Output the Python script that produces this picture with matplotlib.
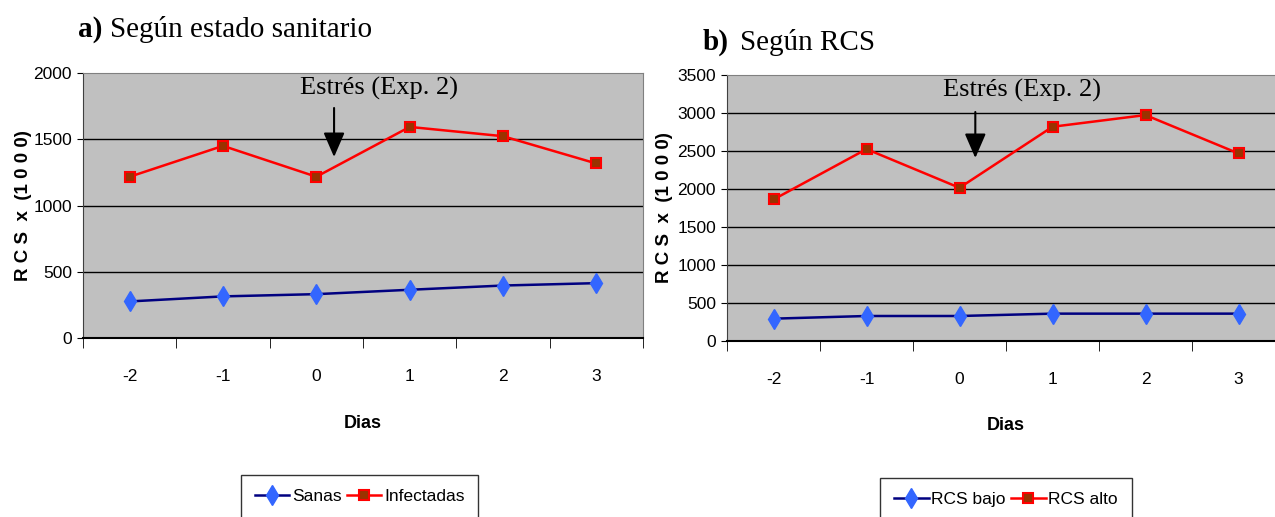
import matplotlib
matplotlib.use("Agg")
import matplotlib.pyplot as plt
from matplotlib.lines import Line2D

dias = ["-2", "-1", "0", "1", "2", "3"]

sanas = [276, 314, 331, 364, 396, 414]
infectadas = [1217, 1450, 1217, 1593, 1523, 1317]

rcs_bajo = [294, 329, 329, 360, 360, 360]
rcs_alto = [1862, 2525, 2016, 2819, 2973, 2468]

sans = ["Liberation Sans", "DejaVu Sans"]
serif = ["Liberation Serif", "DejaVu Serif"]

fig = plt.figure(figsize=(12.75, 5.17), dpi=100)


def panel(pos, s1, s2, ymax, step, arrow, label_xy):
    ax = fig.add_axes(pos)
    ax.set_facecolor("#C0C0C0")
    x = list(range(len(dias)))
    ax.plot(x, s1, color="#000080", lw=1.8, marker="d", ms=10,
            mfc="#3366FF", mec="#3366FF", zorder=3)
    ax.plot(x, s2, color="#FF0000", lw=1.8, marker="s", ms=7,
            mfc="#993300", mec="#FF0000", mew=1.5, zorder=3)
    ax.set_xlim(-0.5, len(dias) - 0.5)
    ax.set_ylim(0, ymax)
    ax.set_yticks(range(0, ymax + 1, step))
    for v in range(step, ymax, step):
        ax.axhline(v, color="black", lw=1, zorder=1)
    ax.set_xticks(x)
    ax.set_xticklabels(dias, family=sans, fontsize=12.5)
    ax.set_xticks([i - 0.5 for i in range(len(dias) + 1)], minor=True)
    ax.tick_params(axis="x", which="major", length=0, pad=22)
    ax.tick_params(axis="x", which="minor", length=7, direction="out")
    ax.tick_params(axis="y", length=4, pad=4)
    for t in ax.get_yticklabels():
        t.set_family(sans)
        t.set_fontsize(12.5)
    ax.spines["top"].set_color("#808080")
    ax.spines["right"].set_color("#808080")
    ax.spines["left"].set_color("#404040")
    ax.spines["bottom"].set_color("black")
    ax.spines["bottom"].set_linewidth(1.5)

    ax.set_ylabel("R C S  x  (1 0 0 0)", family=sans, fontsize=13.5,
                  fontweight="bold")
    ax.yaxis.set_label_coords(label_xy[0], 0.5)
    ax.set_xlabel("Dias", family=sans, fontsize=13, fontweight="bold")
    ax.xaxis.set_label_coords(0.5, label_xy[1])

    ax_x, y0, y1, tx, ty = arrow
    ax.annotate("", xy=(ax_x, y1), xytext=(ax_x, y0),
                arrowprops=dict(arrowstyle="-|>,head_length=1.5,head_width=0.65",
                                color="black", lw=1.5, shrinkA=0, shrinkB=0))
    ax.text(tx, ty, "Estrés (Exp. 2)", family=serif, fontsize=19,
            ha="center", va="center")

    handles = [
        Line2D([], [], color="#000080", lw=1.8, marker="d", ms=10,
               mfc="#3366FF", mec="#3366FF"),
        Line2D([], [], color="#FF0000", lw=1.8, marker="s", ms=7,
               mfc="#993300", mec="#FF0000", mew=1.5),
    ]
    return ax, handles


ax1, h1 = panel([83 / 1275, 1 - 338 / 517, 560 / 1275, 265 / 517],
                sanas, infectadas, 2000, 500,
                (2.19, 1736, 1366, 2.67, 1887), (-0.091, -0.29))
ax2, h2 = panel([727 / 1275, 1 - 341 / 517, 558 / 1275, 266 / 517],
                rcs_bajo, rcs_alto, 3500, 500,
                (2.17, 3013, 2408, 2.67, 3303), (-0.097, -0.286))

for handles, names, cx, top in [(h1, ["Sanas", "Infectadas"], 359.5, 475),
                                (h2, ["RCS bajo", "RCS alto"], 1006, 478)]:
    leg = fig.legend(handles, names, loc="upper center",
                     bbox_to_anchor=(cx / 1275, 1 - top / 517), ncol=2,
                     prop={"family": sans, "size": 12.5}, frameon=True,
                     fancybox=False, edgecolor="black", handlelength=2.0,
                     handletextpad=0.15, columnspacing=0.3, borderpad=0.8,
                     borderaxespad=0)
    leg.get_frame().set_linewidth(1)

# titles
fig.text(78 / 1275, 1 - 37 / 517, "a)", family=serif, fontsize=21,
         fontweight="bold", va="baseline")
fig.text(110 / 1275, 1 - 37 / 517, "Según estado sanitario", family=serif,
         fontsize=21, va="baseline")
fig.text(703 / 1275, 1 - 50 / 517, "b)", family=serif, fontsize=21,
         fontweight="bold", va="baseline")
fig.text(740 / 1275, 1 - 50 / 517, "Según RCS", family=serif, fontsize=21,
         va="baseline")

fig.savefig("out.png", dpi=100)
